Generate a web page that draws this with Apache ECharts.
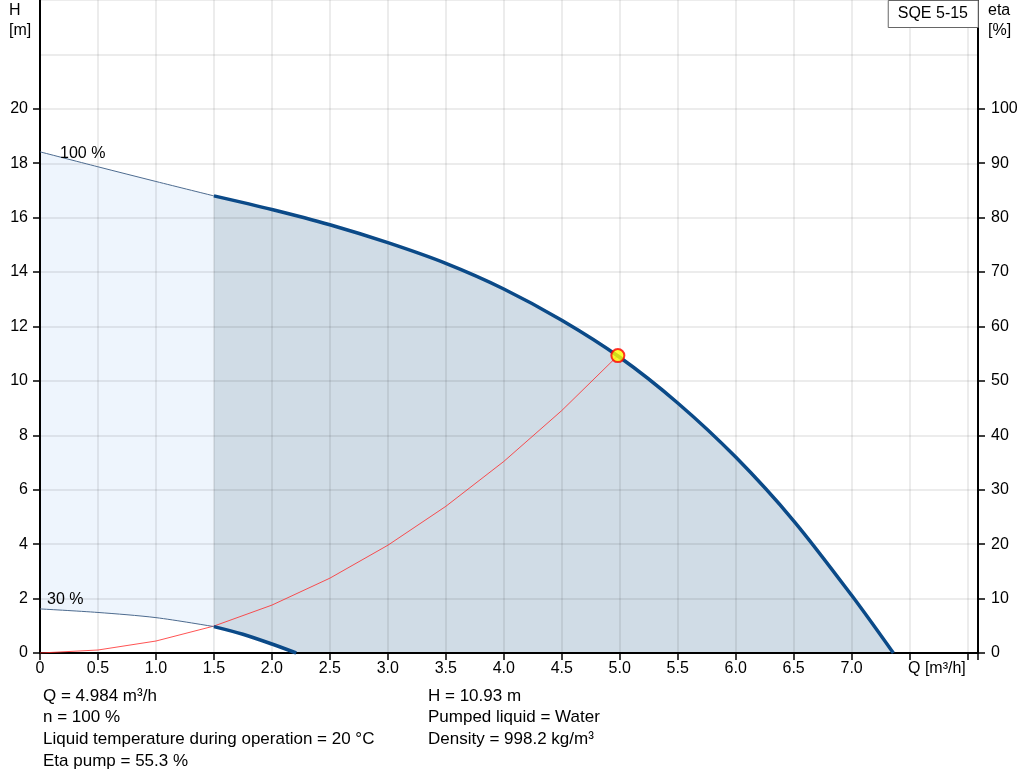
<!DOCTYPE html>
<html>
<head>
<meta charset="utf-8">
<script src="https://cdn.jsdelivr.net/npm/echarts@6/dist/echarts.min.js"></script>
<style>
  html, body { margin: 0; padding: 0; background: #fff; }
  #pumpChart { width: 1024px; height: 781px; }
</style>
</head>
<body>
<div id="pumpChart"></div>
<script>
"use strict";
var textColor = '#000';
var fontName = 'Liberation Sans, Arial, sans-serif';

// 100 % speed curve, thin part (below minimum flow)
var flowHigh = [0, 0.5, 1.0, 1.5];
var headHigh = [18.42, 17.87, 17.33, 16.80];
// 100 % speed curve, operating range
var flowPump = [1.5, 2.0, 2.5, 3.0, 3.5, 4.0, 4.5, 5.0, 5.5, 6.0, 6.5, 7.0, 7.36];
var headPump = [16.80, 16.30, 15.74, 15.08, 14.32, 13.38, 12.23, 10.87, 9.19, 7.20, 4.86, 2.12, 0];
// 30 % speed curve
var flowLow = [0, 0.5, 1.0, 1.5];
var headLow = [1.62, 1.49, 1.30, 0.97];
var flowLowPump = [1.5, 1.75, 2.0, 2.21];
var headLowPump = [0.97, 0.69, 0.33, 0];
// system curve
var flowSystem = [0, 0.5, 1.0, 1.5, 2.0, 2.5, 3.0, 3.5, 4.0, 4.5, 4.984];
var headSystem = [0, 0.11, 0.44, 0.99, 1.76, 2.75, 3.96, 5.39, 7.04, 8.91, 10.93];
// duty point
var dutyFlow = [4.984];
var dutyHead = [10.93];

var infoLeft = ['Q = 4.984 m³/h', 'n = 100 %', 'Liquid temperature during operation = 20 °C', 'Eta pump = 55.3 %'];
var infoRight = ['H = 10.93 m', 'Pumped liquid = Water', 'Density = 998.2 kg/m³'];

function zip(xs, ys) {
	return xs.map(function(x, i) { return [x, ys[i]]; });
}

function fillSeries(xs, ys, color, smooth) {
	return {
		type : 'line',
		data : zip(xs, ys),
		smooth : smooth,
		symbol : 'none',
		silent : true,
		z : 0,
		lineStyle : { opacity : 0 },
		areaStyle : { color : color, opacity : 1 }
	};
}

function curveSeries(xs, ys, color, width, smooth) {
	return {
		type : 'line',
		data : zip(xs, ys),
		smooth : smooth,
		symbol : 'none',
		silent : true,
		z : 3,
		lineStyle : { color : color, width : width }
	};
}

function label(text, x, y, extra) {
	return {
		type : 'text', left : x, top : y, z : 10,
		style : Object.assign({ text : text, fill : textColor, font : '16px ' + fontName }, extra || {})
	};
}

function pumpChart() {
	var chart = echarts.init(document.getElementById('pumpChart'));

	var tickLabel = { color : textColor, fontSize : 16, fontFamily : fontName };
	var gridLine = { color : 'rgba(0,0,0,0.10)', width : 1.5 };

	chart.setOption({
		animation : false,
		title : {
			text : 'SQE 5-15',
			right : 46,
			top : 0,
			padding : [6, 10, 6, 10],
			borderWidth : 1,
			borderColor : '#666',
			backgroundColor : '#fff',
			textStyle : { color : textColor, fontSize : 16, fontWeight : 'normal', fontFamily : fontName }
		},
		grid : [ {
			left : 40, right : 46, top : 0, bottom : 128
		}, {
			left : 40, right : 46, top : 108.8, bottom : 128
		} ],
		xAxis : [ {
			type : 'value',
			gridIndex : 0,
			min : 0,
			max : 8.09,
			interval : 0.5,
			z : 1,
			axisLine : { lineStyle : { color : '#000', width : 2 } },
			axisTick : { length : 7, lineStyle : { color : '#000', width : 1.5 } },
			axisLabel : Object.assign({}, tickLabel, {
				margin : 8,
				formatter : function(v) {
					if (v > 7.25) return '';
					return v === 0 ? '0' : v.toFixed(1);
				}
			}),
			splitLine : { show : true, lineStyle : gridLine }
		}, {
			type : 'value', gridIndex : 1, min : 0, max : 8.09, show : false
		} ],
		yAxis : [ {
			type : 'value',
			gridIndex : 0,
			position : 'left',
			min : 0,
			max : 24,
			interval : 2,
			z : 1,
			axisLine : { show : true, lineStyle : { color : '#000', width : 2 } },
			axisTick : { show : false },
			axisLabel : { show : false },
			splitLine : { show : true, lineStyle : gridLine }
		}, {
			type : 'value',
			gridIndex : 0,
			position : 'right',
			min : 0,
			max : 120,
			interval : 10,
			z : 1,
			axisLine : { show : true, lineStyle : { color : '#000', width : 2 } },
			axisTick : { show : false },
			axisLabel : { show : false },
			splitLine : { show : false }
		}, {
			type : 'value',
			gridIndex : 1,
			position : 'left',
			min : 0,
			max : 20,
			interval : 2,
			axisLine : { show : false },
			axisTick : { show : true, length : 7, lineStyle : { color : '#000', width : 1.5 } },
			axisLabel : Object.assign({}, tickLabel, { margin : 12 }),
			splitLine : { show : false }
		}, {
			type : 'value',
			gridIndex : 1,
			position : 'right',
			min : 0,
			max : 100,
			interval : 10,
			axisLine : { show : false },
			axisTick : { show : true, length : 7, lineStyle : { color : '#000', width : 1.5 } },
			axisLabel : Object.assign({}, tickLabel, { margin : 13 }),
			splitLine : { show : false }
		} ],
		series : [
			fillSeries(flowHigh, headHigh, '#eef5fd', 0.3),
			fillSeries(flowLow, headLow, '#ffffff', 0.3),
			fillSeries(flowPump, headPump, '#d0dce6', 0.3),
			fillSeries(flowLowPump, headLowPump, '#ffffff', 0.3),
			curveSeries(flowSystem, headSystem, 'rgba(255,40,40,0.8)', 1, false),
			curveSeries(flowHigh, headHigh, '#4d6b8f', 1, 0.3),
			curveSeries(flowLow, headLow, '#4d6b8f', 1, 0.3),
			curveSeries(flowPump, headPump, '#0b4a88', 3.5, 0.3),
			curveSeries(flowLowPump, headLowPump, '#0b4a88', 3.5, 0.3),
			{
				type : 'scatter',
				data : zip(dutyFlow, dutyHead),
				symbol : 'circle',
				symbolSize : 13,
				silent : true,
				z : 5,
				itemStyle : { color : '#ffff00', borderColor : '#ff0000', borderWidth : 2 }
			}
		],
		graphic : [
			label('H\n[m]', 9, 1, { lineHeight : 20, align : 'center' }),
			label('eta\n[%]', 988, 1, { lineHeight : 20, align : 'center' }),
			label('Q [m³/h]', 908, 661),
			label('100 %', 60, 146),
			label('30 %', 47, 592),
			label(infoLeft.join('\n'), 43, 685, { font : '17px ' + fontName, lineHeight : 21.8 }),
			label(infoRight.join('\n'), 428, 685, { font : '17px ' + fontName, lineHeight : 21.8 })
		]
	});
}

pumpChart();
</script>
</body>
</html>
